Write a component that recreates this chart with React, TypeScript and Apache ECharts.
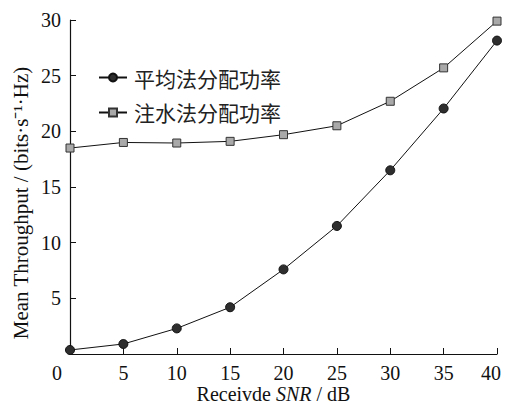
import React, { useEffect, useRef } from "react";
import * as echarts from "echarts";

const snr = [0, 5, 10, 15, 20, 25, 30, 35, 40];
const equalPower = [0.36, 0.9, 2.3, 4.2, 7.6, 11.5, 16.5, 22.05, 28.15];
const waterFilling = [18.5, 19.0, 18.95, 19.1, 19.7, 20.5, 22.7, 25.7, 29.9];
const seriesNames = ["平均法分配功率", "注水法分配功率"];

const FONT = "'Liberation Serif', 'Times New Roman', serif";
const CJK = "'Noto Sans CJK SC', 'Liberation Serif', serif";

export default function App() {
  const ref = useRef<HTMLDivElement>(null);
  useEffect(() => {
    if (!ref.current) return;
    const chart = echarts.init(ref.current, undefined, { renderer: "svg" });
    const toPairs = (ys: number[]) => snr.map((x, i) => [x, ys[i]]);
    chart.setOption({
      animation: false,
      backgroundColor: "#ffffff",
      grid: { left: 70, right: 8, top: 20, bottom: 53, outerBoundsMode: "none", containLabel: false },
      legend: {
        orient: "vertical",
        left: 98,
        top: 67,
        padding: 0,
        itemWidth: 28,
        itemHeight: 10,
        itemGap: 14,
        textStyle: { fontFamily: CJK, fontSize: 21, color: "#222", padding: [0, 0, 0, 2] },
        data: seriesNames,
      },
      xAxis: {
        type: "value",
        min: 0,
        max: 40,
        interval: 5,
        name: "{n|Receivde }{i|SNR}{n| / dB}",
        nameLocation: "middle",
        nameGap: 30,
        nameMoveOverlap: false,
        nameTextStyle: {
          padding: [0, 20, 0, 0],
          rich: {
            n: { fontFamily: FONT, fontSize: 20, lineHeight: 20, color: "#111" },
            i: { fontFamily: FONT, fontSize: 20, lineHeight: 20, fontStyle: "italic", color: "#111" },
          },
        },
        splitLine: { show: false },
        axisLine: { lineStyle: { color: "#111", width: 1.2 } },
        axisTick: { inside: true, length: 6, lineStyle: { color: "#111" } },
        axisLabel: {
          margin: 9,
          fontFamily: FONT,
          fontSize: 20,
          color: "#111",
          formatter: (v: number) => (v === 0 ? "{z|0}" : v === 40 ? "{e|40}" : String(v)),
          rich: {
            z: { fontFamily: FONT, fontSize: 20, color: "#111", padding: [0, 26, 0, 0] },
            e: { fontFamily: FONT, fontSize: 20, color: "#111", padding: [0, 12, 0, 0] },
          },
        },
      },
      yAxis: {
        type: "value",
        min: 0,
        max: 30,
        interval: 5,
        name: "Mean Throughput / (bits·s⁻¹·Hz)",
        nameLocation: "middle",
        nameGap: 39,
        nameMoveOverlap: false,
        nameTextStyle: { fontFamily: FONT, fontSize: 21, color: "#111", padding: [0, 32, 0, 0] },
        splitLine: { show: false },
        axisLine: { show: true, lineStyle: { color: "#111", width: 1.2 } },
        axisTick: { show: true, inside: true, length: 6, lineStyle: { color: "#111" } },
        axisLabel: { showMinLabel: false, margin: 9, fontFamily: FONT, fontSize: 20, color: "#111" },
      },
      series: [
        {
          name: seriesNames[0],
          type: "line",
          data: toPairs(equalPower),
          symbol: "circle",
          symbolSize: 9,
          lineStyle: { color: "#111", width: 1 },
          itemStyle: { color: "#2e2e2e", borderColor: "#111", borderWidth: 1 },
        },
        {
          name: seriesNames[1],
          type: "line",
          data: toPairs(waterFilling),
          symbol: "rect",
          symbolSize: 8,
          lineStyle: { color: "#111", width: 1 },
          itemStyle: { color: "#a9a9a9", borderColor: "#333", borderWidth: 1 },
        },
      ],
    });
    return () => chart.dispose();
  }, []);
  return (
    <div
      ref={ref}
      style={{ position: "fixed", left: 0, top: 0, width: 505, height: 407, background: "#fff" }}
    />
  );
}
